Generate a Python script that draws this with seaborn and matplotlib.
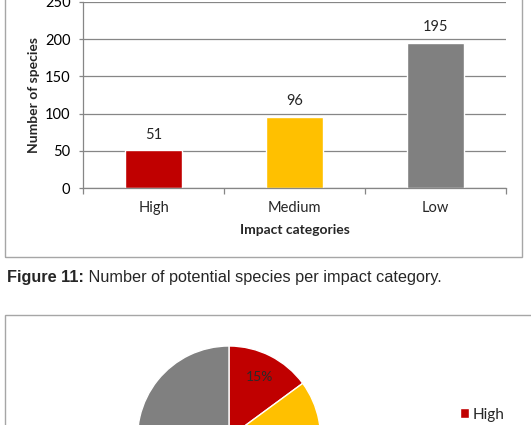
import matplotlib
matplotlib.use("Agg")
import matplotlib.pyplot as plt
import seaborn as sns
import pandas as pd
from matplotlib.patches import Rectangle

categories = ["High", "Medium", "Low"]
species_counts = [51, 96, 195]
colors = ["#C00000", "#FFC000", "#808080"]
y_ticks = [0, 50, 100, 150, 200, 250]
caption_bold = "Figure 11:"
caption_text = " Number of potential species per impact category."

W, H = 531, 425
sns.set_theme(style="white")
plt.rcParams["font.family"] = ["Lato", "DejaVu Sans"]

fig = plt.figure(figsize=(W / 100, H / 100), dpi=100)
fig.patch.set_facecolor("white")

def px(x0, y0, x1, y1):
    # pixel box (top-left origin) -> figure fraction rect
    return [x0 / W, 1 - y1 / H, (x1 - x0) / W, (y1 - y0) / H]

frame_col = "#A6A6A6"
# frames
fig.patches.append(Rectangle((5 / W, 1 - 257 / H), (522 - 5) / W, 300 / H,
                             transform=fig.transFigure, fill=False,
                             edgecolor=frame_col, linewidth=1.0))
fig.patches.append(Rectangle((5 / W, 1 - 600 / H), 600 / W, (600 - 315) / H,
                             transform=fig.transFigure, fill=False,
                             edgecolor=frame_col, linewidth=1.0))

# bar chart
ax = fig.add_axes(px(83, 1.8, 506, 188.3))
df = pd.DataFrame({"Impact": categories, "Count": species_counts})
sns.barplot(data=df, x="Impact", y="Count", hue="Impact",
            palette=dict(zip(categories, colors)), width=0.4,
            legend=False, ax=ax, saturation=1)
ax.set_ylim(0, 250)
ax.set_xlim(-0.5, 2.5)
ax.set_yticks(y_ticks)
ax.set_yticklabels([str(v) for v in y_ticks], fontsize=10.5, color="#000000")
ax.yaxis.grid(True, color="#868686", linewidth=0.9)
ax.set_axisbelow(True)
for s in ["top", "right"]:
    ax.spines[s].set_visible(False)
for s in ["left", "bottom"]:
    ax.spines[s].set_color("#868686")
    ax.spines[s].set_linewidth(0.9)
ax.tick_params(axis="y", which="major", length=3, width=0.9, color="#868686",
               direction="out", pad=6, left=True)
ax.set_xticks([0, 1, 2])
ax.set_xticklabels(categories, fontsize=10.5)
ax.tick_params(axis="x", which="major", length=0, pad=9)
ax.set_xticks([-0.5, 0.5, 1.5, 2.5], minor=True)
ax.tick_params(axis="x", which="minor", length=4, width=0.9, color="#868686",
               direction="out", bottom=True)
for c in ax.containers:
    ax.bar_label(c, fontsize=10.5, padding=6)
ax.set_ylabel("Number of species", fontsize=10, fontweight="bold")
ax.yaxis.set_label_coords(-0.102, 0.5)
ax.set_xlabel("Impact categories", fontsize=10, fontweight="bold")
ax.xaxis.set_label_coords(0.5, -0.19)
ax.patch.set_alpha(0)

# caption
t1 = fig.text(7 / W, 1 - 285 / H, caption_bold, fontsize=11.7, fontweight="bold",
              family=["Liberation Sans", "DejaVu Sans"], va="bottom", ha="left")
ax.annotate(caption_text, xy=(1, 0), xycoords=t1, va="bottom", ha="left",
            fontsize=11.7, family=["Liberation Sans", "DejaVu Sans"],
            annotation_clip=False)

# pie chart (mostly cut off below)
cx, cy, r = 229, 437.5, 91.5
pax = fig.add_axes(px(cx - r, cy - r, cx + r, cy + r))
wedges, texts, autotexts = pax.pie(species_counts, colors=colors, startangle=90,
                                   counterclock=False, radius=1,
                                   autopct="%1.0f%%", pctdistance=0.74,
                                   textprops=dict(fontsize=10, color="#2a2a2a"))
for t in autotexts[1:]:
    t.set_visible(False)
pax.set_xlim(-1, 1)
pax.set_ylim(-1, 1)
pax.set_aspect("equal")
pax.axis("off")

fig.legend(wedges, categories, loc="upper left",
           bbox_to_anchor=(452 / W, 1 - 400 / H), frameon=False,
           fontsize=11, handlelength=0.6, handleheight=0.6, handletextpad=0.25,
           labelspacing=2.5, borderpad=0)

fig.savefig("out.png", dpi=100, facecolor="white")
